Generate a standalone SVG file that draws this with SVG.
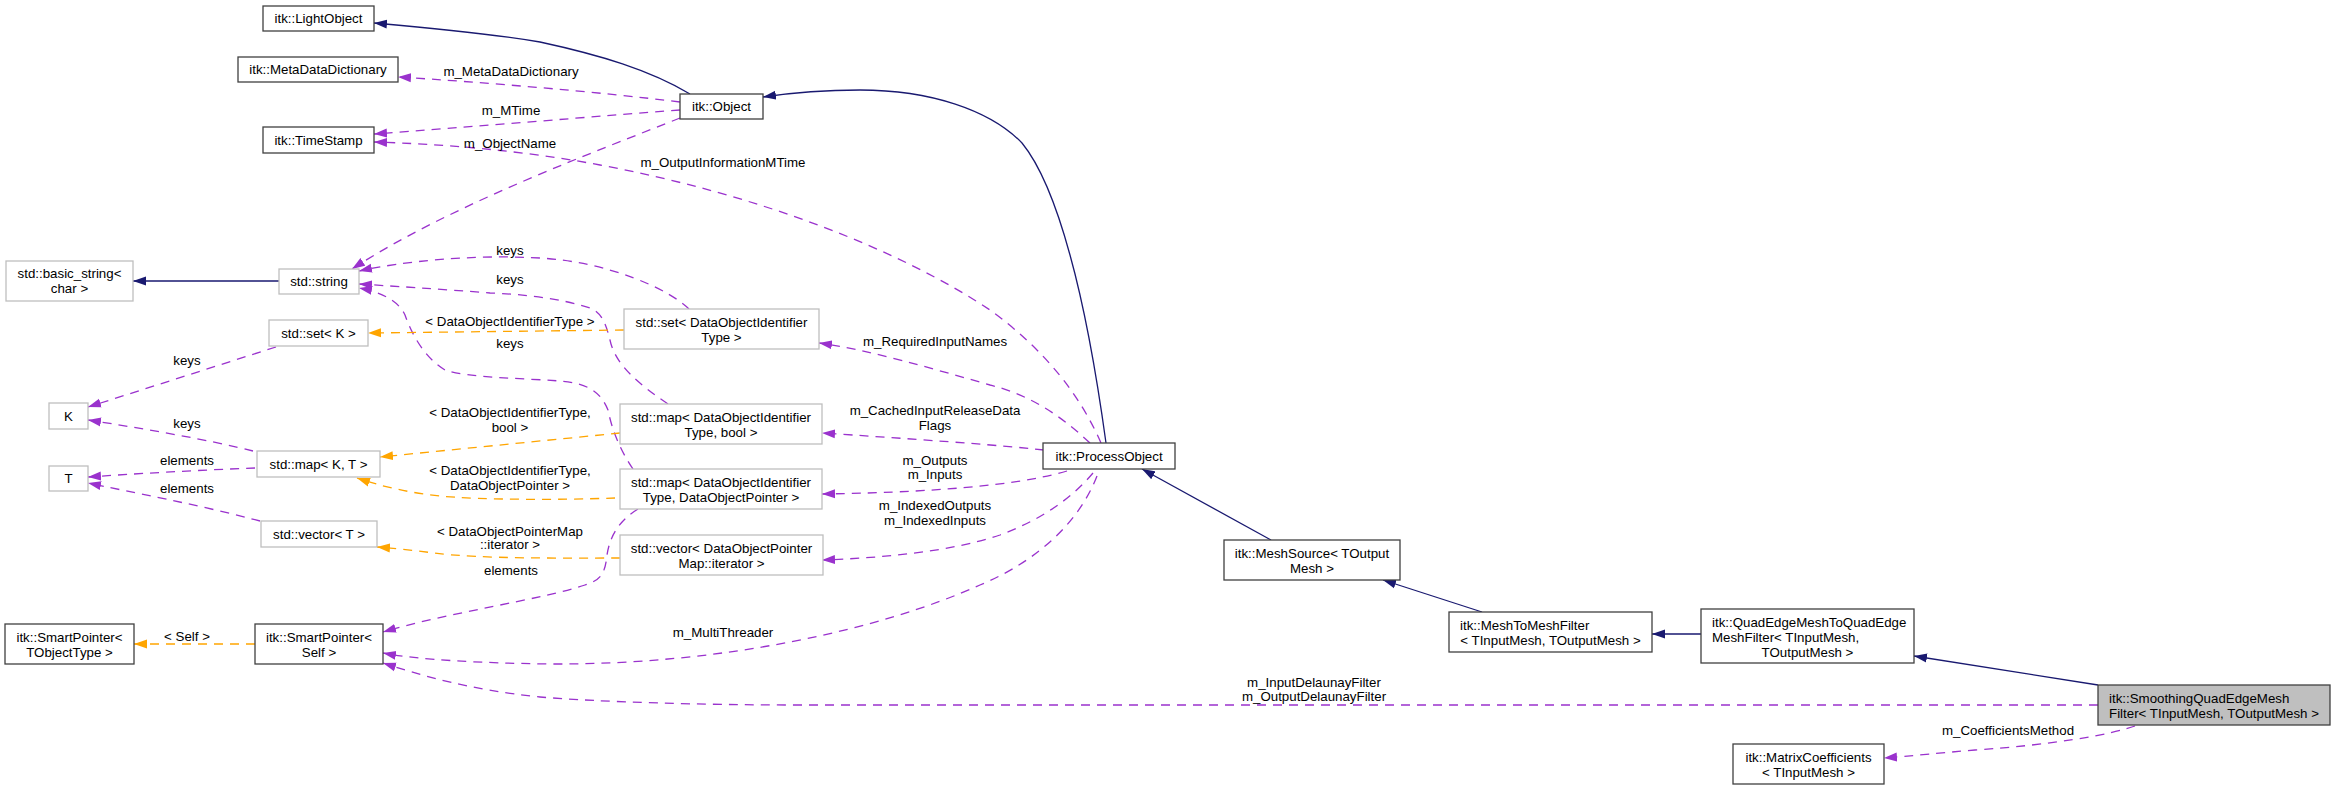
<svg xmlns="http://www.w3.org/2000/svg" width="2335" height="790" viewBox="0 0 2335 790">
<style>
.n rect{fill:#fff;stroke:#404040;stroke-width:1.3}
.n.ext rect{stroke:#bfbfbf}
.n.cur rect{fill:#bfbfbf}
text{font-family:"Liberation Sans",Arial,Helvetica,sans-serif;font-size:13.3px;fill:#000}
.c{text-anchor:middle}
.l{text-anchor:start}
.inh{fill:none;stroke:#191970;stroke-width:1.3;marker-end:url(#an)}
.use{fill:none;stroke:#9a32cd;stroke-width:1.3;stroke-dasharray:9,7;marker-end:url(#ap)}
.tpl{fill:none;stroke:#ffa500;stroke-width:1.3;stroke-dasharray:9,7;marker-end:url(#ao)}
</style>
<defs>
<marker id="an" markerUnits="userSpaceOnUse" markerWidth="13" markerHeight="10" viewBox="0 0 13 10" refX="13" refY="5" orient="auto"><path d="M0,0.5 L13,5 L0,9.5 z" fill="#191970"/></marker>
<marker id="ap" markerUnits="userSpaceOnUse" markerWidth="13" markerHeight="10" viewBox="0 0 13 10" refX="13" refY="5" orient="auto"><path d="M0,0.5 L13,5 L0,9.5 z" fill="#9a32cd"/></marker>
<marker id="ao" markerUnits="userSpaceOnUse" markerWidth="13" markerHeight="10" viewBox="0 0 13 10" refX="13" refY="5" orient="auto"><path d="M0,0.5 L13,5 L0,9.5 z" fill="#ffa500"/></marker>
</defs>
<rect x="0" y="0" width="2335" height="790" fill="#fff"/>

<g id="connectors">
<path class="inh" d="M690,94 C650,70 600,55 540,42 C480,32 420,27 374,23"/>
<path class="inh" d="M1106,443 C1098,385 1088,320 1070,255 C1055,200 1040,165 1022,143 C990,110 930,90 860,90 C820,90 790,93 763,97"/>
<path class="inh" d="M279,281 L133,281"/>
<path class="inh" d="M1271,540 L1142,469"/>
<path class="inh" d="M1482,612 L1383,580"/>
<path class="inh" d="M1701,634 L1652,634"/>
<path class="inh" d="M2098,685 L1914,656"/>

<path class="use" d="M680,102 C600,92 480,82 398,77"/>
<path class="use" d="M680,110 C600,116 470,127 374,134"/>
<path class="use" d="M680,118 C600,150 450,205 352,269"/>
<path class="use" d="M1101,443 C1080,395 1045,350 990,310 C900,250 760,195 600,165 C520,150 440,144 374,142"/>
<path class="use" d="M689,309 C670,290 610,262 540,258 C470,254 400,262 359,271"/>
<path class="use" d="M668,404 C640,385 615,365 610,340 C605,320 600,312 590,308 C560,298 520,294 490,293 C440,289 390,286 359,284"/>
<path class="use" d="M633,469 C620,450 612,430 608,410 C600,390 585,383 560,381 C520,378 470,378 445,370 C425,358 412,335 405,315 C398,300 380,292 359,288"/>
<path class="use" d="M638,509 C620,520 610,535 607,555 C605,575 600,580 585,585 C540,600 450,612 383,632"/>
<path class="use" d="M1090,443 C1060,415 1030,395 990,385 C930,368 870,350 819,343"/>
<path class="use" d="M1044,450 C1000,445 900,438 822,433"/>
<path class="use" d="M1067,471 C1030,482 960,492 822,494"/>
<path class="use" d="M1093,473 C1070,500 1040,520 1000,535 C950,552 880,558 822,560"/>
<path class="use" d="M1097,476 C1080,520 1040,560 980,585 C880,630 720,665 550,664 C480,663 420,660 383,653"/>
<path class="use" d="M2098,705 L800,705 C700,705 600,702 540,697 C470,690 420,675 383,663"/>
<path class="use" d="M2135,726 C2110,735 2050,745 1975,750 C1940,753 1910,756 1884,758"/>
<path class="use" d="M276,347 L88,407"/>
<path class="use" d="M253,451 C210,440 140,428 88,420"/>
<path class="use" d="M255,468 C200,470 130,474 88,477"/>
<path class="use" d="M260,521 C200,505 130,492 88,483"/>

<path class="tpl" d="M624,330 L368,333"/>
<path class="tpl" d="M620,433 L380,457"/>
<path class="tpl" d="M615,498 C560,500 480,500 440,496 C410,493 380,486 357,478"/>
<path class="tpl" d="M620,558 C560,558 480,559 434,553 C410,550 390,548 377,547"/>
<path class="tpl" d="M255,644 L134,644"/>

<text class="c" x="511" y="76">m_MetaDataDictionary</text>
<text class="c" x="511" y="115">m_MTime</text>
<text class="c" x="510" y="148">m_ObjectName</text>
<text class="c" x="723" y="167">m_OutputInformationMTime</text>
<text class="c" x="510" y="255">keys</text>
<text class="c" x="510" y="284">keys</text>
<text class="c" x="510" y="348">keys</text>
<text class="c" x="510" y="325.5">&lt; DataObjectIdentifierType &gt;</text>
<text class="c" x="510" y="417">&lt; DataObjectIdentifierType,</text>
<text class="c" x="510" y="432">bool &gt;</text>
<text class="c" x="510" y="475">&lt; DataObjectIdentifierType,</text>
<text class="c" x="510" y="489.5">DataObjectPointer &gt;</text>
<text class="c" x="510" y="535.5">&lt; DataObjectPointerMap</text>
<text class="c" x="510" y="549">::iterator &gt;</text>
<text class="c" x="511" y="575">elements</text>
<text class="c" x="187" y="365">keys</text>
<text class="c" x="187" y="428">keys</text>
<text class="c" x="187" y="465">elements</text>
<text class="c" x="187" y="493">elements</text>
<text class="c" x="187" y="641">&lt; Self &gt;</text>
<text class="c" x="935" y="345.5">m_RequiredInputNames</text>
<text class="c" x="935" y="415">m_CachedInputReleaseData</text>
<text class="c" x="935" y="429.5">Flags</text>
<text class="c" x="935" y="464.5">m_Outputs</text>
<text class="c" x="935" y="479">m_Inputs</text>
<text class="c" x="935" y="509.5">m_IndexedOutputs</text>
<text class="c" x="935" y="524.5">m_IndexedInputs</text>
<text class="c" x="723" y="636.5">m_MultiThreader</text>
<text class="c" x="1314" y="687">m_InputDelaunayFilter</text>
<text class="c" x="1314" y="701">m_OutputDelaunayFilter</text>
<text class="c" x="2008" y="735">m_CoefficientsMethod</text>
</g>

<g id="LightObject" class="n"><rect x="263" y="6" width="111" height="25"/><text class="c" x="318.5" y="23">itk::LightObject</text></g>
<g id="MetaDataDictionary" class="n"><rect x="238" y="57" width="160" height="25"/><text class="c" x="318" y="74">itk::MetaDataDictionary</text></g>
<g id="TimeStamp" class="n"><rect x="263" y="127" width="111" height="26"/><text class="c" x="318.5" y="144.5">itk::TimeStamp</text></g>
<g id="Object" class="n"><rect x="680" y="94" width="83" height="25"/><text class="c" x="721.5" y="111">itk::Object</text></g>
<g id="basic_string" class="n ext"><rect x="6" y="261" width="127" height="40"/><text class="c" x="69.5" y="278">std::basic_string&lt;</text><text class="c" x="69.5" y="293">char &gt;</text></g>
<g id="string" class="n ext"><rect x="279" y="269" width="80" height="25"/><text class="c" x="319" y="286">std::string</text></g>
<g id="setK" class="n ext"><rect x="269" y="320" width="99" height="26"/><text class="c" x="318.5" y="337.5">std::set&lt; K &gt;</text></g>
<g id="K" class="n ext"><rect x="49" y="403" width="39" height="26"/><text class="c" x="68.5" y="420.5">K</text></g>
<g id="mapKT" class="n ext"><rect x="257" y="451" width="123" height="26"/><text class="c" x="318.5" y="468.5">std::map&lt; K, T &gt;</text></g>
<g id="T" class="n ext"><rect x="49" y="466" width="39" height="25"/><text class="c" x="68.5" y="483">T</text></g>
<g id="vectorT" class="n ext"><rect x="261" y="521" width="116" height="26"/><text class="c" x="319" y="538.5">std::vector&lt; T &gt;</text></g>
<g id="SmartPointerTObjectType" class="n"><rect x="5" y="624" width="129" height="40"/><text class="c" x="69.5" y="641.5">itk::SmartPointer&lt;</text><text class="c" x="69.5" y="656.5">TObjectType &gt;</text></g>
<g id="SmartPointerSelf" class="n"><rect x="255" y="624" width="128" height="40"/><text class="c" x="319" y="641.5">itk::SmartPointer&lt;</text><text class="c" x="319" y="656.5">Self &gt;</text></g>
<g id="setDOI" class="n ext"><rect x="624" y="309" width="195" height="40"/><text class="c" x="721.5" y="326.5">std::set&lt; DataObjectIdentifier</text><text class="c" x="721.5" y="341.5">Type &gt;</text></g>
<g id="mapDOIbool" class="n ext"><rect x="620" y="404" width="202" height="40"/><text class="c" x="721" y="421.5">std::map&lt; DataObjectIdentifier</text><text class="c" x="721" y="436.5">Type, bool &gt;</text></g>
<g id="mapDOIDOP" class="n ext"><rect x="620" y="469" width="202" height="40"/><text class="c" x="721" y="486.5">std::map&lt; DataObjectIdentifier</text><text class="c" x="721" y="501.5">Type, DataObjectPointer &gt;</text></g>
<g id="vectorDOPM" class="n ext"><rect x="620" y="535" width="203" height="40"/><text class="c" x="721.5" y="552.5">std::vector&lt; DataObjectPointer</text><text class="c" x="721.5" y="567.5">Map::iterator &gt;</text></g>
<g id="ProcessObject" class="n"><rect x="1043" y="443" width="132" height="26"/><text class="c" x="1109" y="460.5">itk::ProcessObject</text></g>
<g id="MeshSource" class="n"><rect x="1224" y="540" width="176" height="40"/><text class="c" x="1312" y="557.5">itk::MeshSource&lt; TOutput</text><text class="c" x="1312" y="572.5">Mesh &gt;</text></g>
<g id="MeshToMeshFilter" class="n"><rect x="1449" y="612" width="203" height="40"/><text class="l" x="1460" y="629.5">itk::MeshToMeshFilter</text><text class="c" x="1550.5" y="644.5">&lt; TInputMesh, TOutputMesh &gt;</text></g>
<g id="QuadEdgeMeshToQuadEdgeMeshFilter" class="n"><rect x="1701" y="609" width="213" height="54"/><text class="l" x="1712" y="626.5">itk::QuadEdgeMeshToQuadEdge</text><text class="l" x="1712" y="641.5">MeshFilter&lt; TInputMesh,</text><text class="c" x="1807.5" y="656.5">TOutputMesh &gt;</text></g>
<g id="SmoothingQuadEdgeMeshFilter" class="n cur"><rect x="2098" y="685" width="232" height="40"/><text class="l" x="2109" y="702.5">itk::SmoothingQuadEdgeMesh</text><text class="c" x="2214" y="717.5">Filter&lt; TInputMesh, TOutputMesh &gt;</text></g>
<g id="MatrixCoefficients" class="n"><rect x="1733" y="744" width="151" height="40"/><text class="c" x="1808.5" y="761.5">itk::MatrixCoefficients</text><text class="c" x="1808.5" y="776.5">&lt; TInputMesh &gt;</text></g>
</svg>
